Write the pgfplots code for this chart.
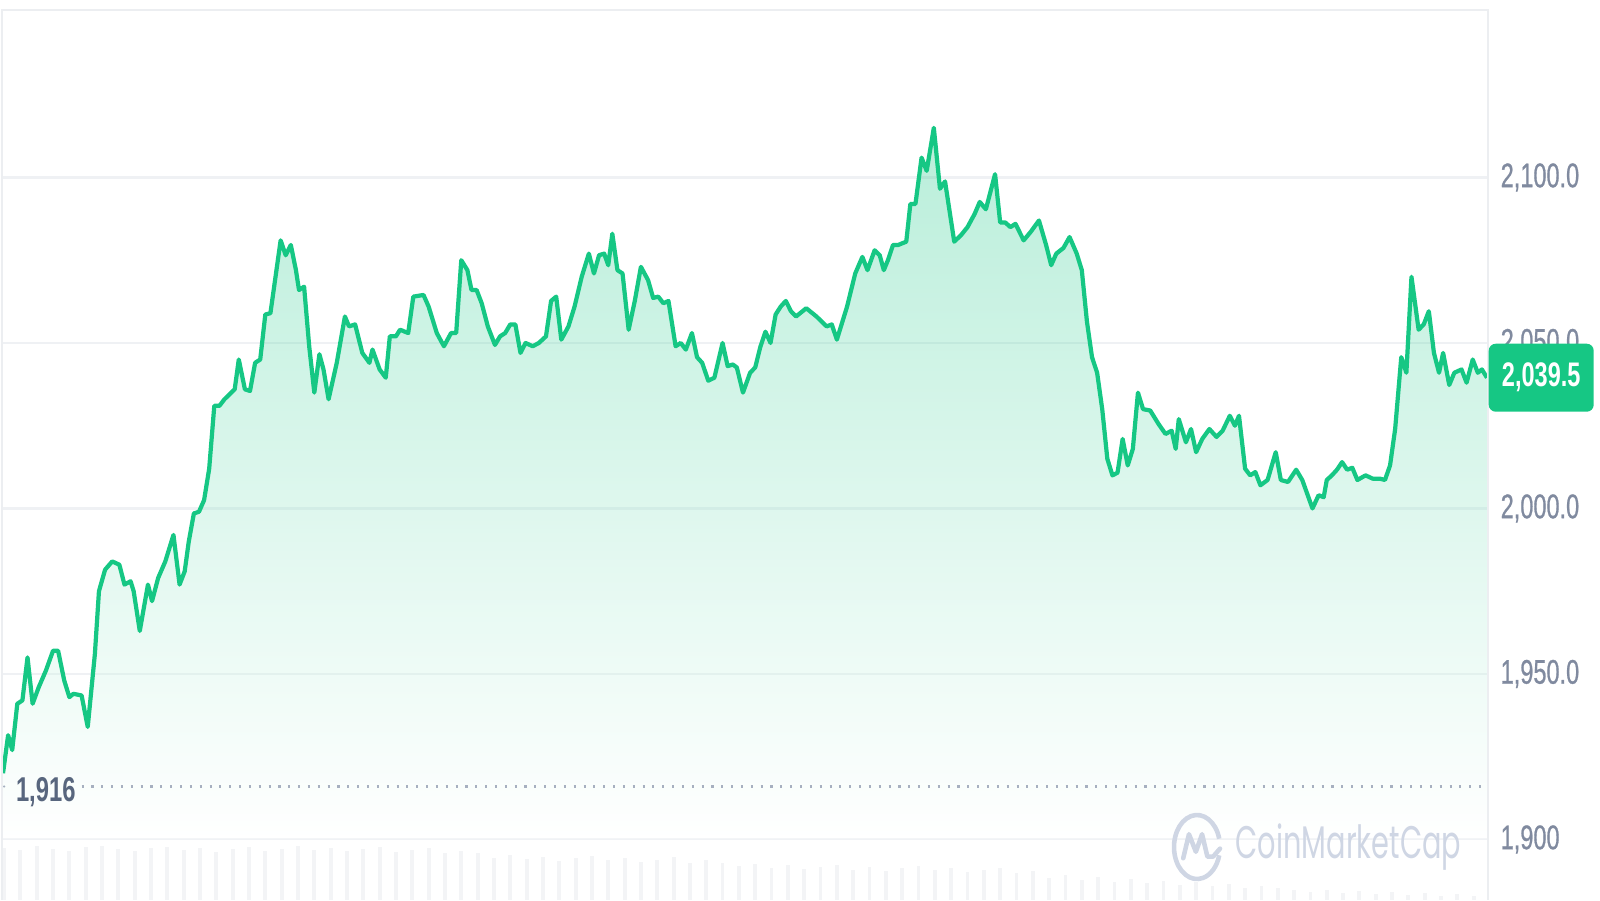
\documentclass[border=0pt]{standalone}
\usepackage{fontspec}
\setmainfont{Liberation Sans}
\newfontfamily\pop{Poppins}
\newfontfamily\tickfont[FakeBold=0.9]{Liberation Sans}
\usepackage{pgfplots}
\pgfplotsset{compat=1.18}
\usepackage{pgfplotstable}
\definecolor{cmc}{HTML}{16C784}
\definecolor{tickc}{HTML}{808A9F}
\definecolor{gridc}{HTML}{EFF1F4}
\definecolor{framec}{HTML}{ECEEF1}
\definecolor{darkc}{HTML}{58667E}
\definecolor{dotc}{HTML}{A7B0C0}
\definecolor{wmc}{HTML}{CFD6E4}
\definecolor{volc}{HTML}{F3F4F6}
\newcommand\sq[1]{\scalebox{0.69}[1]{#1}}

\pgfplotstableread{
x y
3 1920
8 1931.5
12 1927
17 1941
22 1942
27 1955
32 1941
38 1946
45 1951
52 1957
57 1957
63 1948
68 1943
72 1944
80 1943.5
86 1934
93 1956
97 1975
103 1981.5
110 1984
117 1983
122 1977
128 1978
131 1975
137 1963
145 1977
149 1972
155 1979
162 1984
170 1992
176 1977
181 1981
185 1990
190 1998.5
195 1999
200 2002.5
205 2012
210 2031
215 2031
220 2033
230 2036
234 2045
240 2036
245 2035.5
250 2044
255 2045
260 2058.6
265 2059
275 2081
280 2076.5
285 2079.6
290 2072
293 2066
298 2067
303 2049
308 2035
313 2046.6
317 2042
322 2033
330 2044
338 2058
342 2055
348 2055.6
355 2047
362 2044
365 2048
372 2042
378 2039.5
382 2052
388 2052
392 2054
400 2053
405 2064
415 2064.5
420 2061
428 2053
435 2049
442 2053
447 2053
452 2075
458 2072
462 2066
467 2066
472 2062
478 2055
485 2049.4
490 2052
495 2053
500 2055.6
505 2055.6
510 2047
515 2050
522 2049
528 2050
535 2052
540 2062.7
545 2064
550 2051
557 2055
563 2061
570 2070
577 2077
582 2071
587 2076.5
592 2077
596 2073.5
600 2083
605 2072
610 2071
616 2054
622 2062.7
628 2073
635 2069
640 2063.6
645 2064
650 2062
655 2062.7
662 2049
667 2050
672 2048
678 2053
683 2045.7
688 2044
694 2038.6
700 2039.5
708 2050
713 2043
718 2043.5
722 2042.6
728 2035
735 2041
740 2042.6
745 2048.8
750 2053.4
755 2050
760 2058.6
765 2061
770 2062.7
775 2059.6
780 2058
790 2060.5
800 2058
810 2055
815 2055.6
820 2051
830 2061
838 2071
845 2076
850 2072
857 2078
862 2076.5
866 2072
870 2075
875 2079.6
880 2079.6
888 2080.6
892 2092
897 2092
903 2106
908 2102
915 2115
921 2096.6
926 2098.8
935 2080.6
942 2082.7
948 2085
955 2089
960 2092.6
966 2090.4
975 2101
980 2086.4
985 2086.4
990 2085
995 2086
1003 2081
1010 2083.6
1018 2087
1025 2079.6
1030 2073.5
1035 2077
1042 2078.7
1048 2082
1055 2077
1060 2072
1065 2056.5
1070 2045.7
1075 2041
1080 2030
1085 2015
1090 2010
1095 2010.8
1100 2021
1105 2013
1110 2018
1115 2035
1120 2030
1127 2029.6
1135 2025.6
1142 2022.5
1148 2023.5
1152 2018
1155 2027
1162 2020
1167 2024
1172 2017
1178 2021
1185 2024
1192 2021.6
1198 2023.5
1205 2028
1210 2025
1214 2028
1220 2012
1225 2010
1230 2011
1235 2007
1242 2008.6
1250 2017
1255 2008.6
1262 2008
1270 2011.7
1276 2008.6
1286 2000
1292 2004
1297 2003.4
1300 2008.6
1305 2010
1310 2011.7
1315 2014
1320 2011.7
1325 2012.3
1330 2008.6
1338 2010
1345 2009
1352 2009
1357 2008.6
1362 2013
1367 2024
1373 2045.7
1378 2041
1383 2070
1390 2054
1395 2055.6
1400 2059.6
1405 2047
1410 2041
1414 2047
1420 2037.3
1425 2041
1432 2042
1437 2038
1443 2045
1448 2041
1452 2042
1457 2039.5
}\price

\pgfplotstableread{
x v
4 1897.5
20 1896.8
36 1897.9
52 1897.2
68 1896.5
84 1897.6
100 1898.0
116 1897.1
132 1896.4
148 1897.3
164 1897.8
180 1896.9
196 1897.5
212 1896.2
228 1897.0
244 1897.7
260 1896.6
276 1897.2
292 1897.9
308 1896.8
324 1897.4
340 1896.5
356 1897.1
372 1897.6
388 1896.3
404 1896.9
420 1897.3
436 1896.0
452 1896.6
468 1895.8
484 1894.5
500 1895.2
516 1894.0
532 1894.8
548 1893.6
564 1894.3
580 1895.0
596 1893.8
612 1894.4
628 1893.2
644 1893.9
660 1894.6
676 1893.0
692 1893.7
708 1892.8
724 1892.0
740 1892.7
756 1891.5
772 1892.3
788 1891.0
804 1891.8
820 1892.4
836 1890.9
852 1891.6
868 1890.5
884 1891.3
900 1892.0
916 1890.7
932 1891.4
948 1890.2
964 1890.9
980 1891.5
996 1890.0
1012 1890.6
1028 1888.5
1044 1889.2
1060 1887.8
1076 1888.6
1092 1887.2
1108 1888.0
1124 1886.9
1140 1887.5
1156 1886.3
1172 1887.1
1188 1885.8
1204 1886.5
1220 1885.4
1236 1886.0
1252 1885.2
1268 1884.6
1284 1884.0
1300 1884.8
1316 1883.7
1332 1884.3
1348 1883.5
1364 1884.1
1380 1883.2
1396 1883.8
1412 1883.0
1428 1883.6
1444 1882.9
}\volume

\begin{document}
\begin{tikzpicture}
\path[use as bounding box] (0,0) rectangle (16cm,9cm);
\begin{axis}[
  name=ax,
  at={(0.02cm,0cm)}, anchor=south west,
  scale only axis, width=14.86cm, height=8.9cm,
  xmin=2, xmax=1458, ymin=1881.7, ymax=2150.6,
  axis line style={draw=none},
  xtick=\empty,
  ytick={1900,1950,2000,2050,2100},
  yticklabels={{\sq{1,900}},{\sq{1,950.0}},{\sq{2,000.0}},{\sq{2,050.0}},{\sq{2,100.0}}},
  yticklabel pos=right,
  major tick length=0pt,
  tick style={draw=none},
  yticklabel style={anchor=west, inner sep=0pt, xshift=0.12cm,
    font=\tickfont\fontsize{9.7}{10}\selectfont, text=tickc},
  ymajorgrids, grid style={draw=gridc, line width=0.6pt},
]
\addplot[ycomb, draw=volc, line width=1.1pt, mark=none] table[x=x, y=v] {\volume};
\addplot[draw=none, top color=cmc, bottom color=white, fill opacity=0.3]
  table[x=x, y=y] {\price} |- (axis cs:3,1900) -- cycle;
\addplot[draw=cmc, line width=1.2pt, line join=round, mark=none] table[x=x, y=y] {\price};
\draw[dotc, line width=0.7pt, dash pattern=on 0.6pt off 2.2pt] (axis cs:80,1916) -- (axis cs:1458,1916);
\fill[dotc] (axis cs:4,1916) circle (0.35pt);
\coordinate (pb) at (axis cs:1458,2039.5);
\end{axis}
\draw[framec, line width=0.8pt] (ax.south west) -- (ax.north west) -- (ax.north east) -- (ax.south east);
\node[anchor=west, inner sep=0pt, text=darkc, font=\bfseries\fontsize{9.8}{10}\selectfont] at (0.153cm,1.08cm) {\sq{1,916}};
\node[fill=cmc, rounded corners=0.07cm, minimum width=1.05cm, minimum height=0.68cm,
  anchor=west, inner sep=0pt, text=white, font=\bfseries\fontsize{9.7}{10}\selectfont] at (pb) {\sq{2,039.5}};
% watermark
\begin{scope}[shift={(11.97cm,0.53cm)}, x=0.23cm, y=0.32cm]
\draw[wmc, line width=1.3pt] (15:1) arc (15:345:1);
\draw[wmc, line width=1.3pt, line join=round, line cap=round]
  (-0.6,-0.35) -- (-0.35,0.4) -- (-0.05,-0.15) -- (0.22,0.4) -- (0.45,-0.3) -- (0.7,-0.3) -- (1.0,-0.05);
\end{scope}
\node[anchor=west, inner sep=0pt, text=wmc, font=\pop\fontsize{13}{13}\selectfont] at (12.35cm,0.53cm) {\scalebox{0.63}[1]{CoinMarketCap}};
\end{tikzpicture}
\end{document}
